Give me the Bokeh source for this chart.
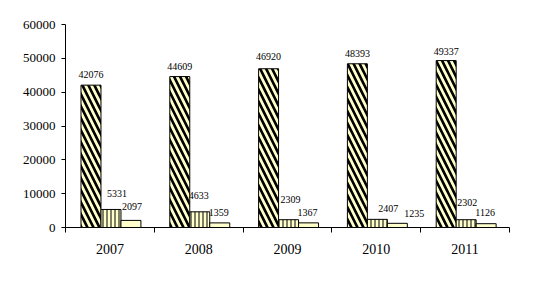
from bokeh.plotting import figure
from bokeh.models import ColumnDataSource, FixedTicker, LabelSet, Range1d
from bokeh.transform import dodge
from bokeh.embed import file_html
from bokeh.resources import INLINE

years = ["2007", "2008", "2009", "2010", "2011"]
series_a = [42076, 44609, 46920, 48393, 49337]
series_b = [5331, 4633, 2309, 2407, 2302]
series_c = [2097, 1359, 1367, 1235, 1126]
y_ticks = [0, 10000, 20000, 30000, 40000, 50000, 60000]

# label nudges (screen px), style only
dx_a = [0, 0, 0, 0, 0]
dy_a = [11, 10, 12, 10, 9]
dx_b = [6, -1, 2, 11, 1]
dy_b = [16, 16, 20, 11, 17]
dx_c = [1, -1, -1, 17, -1]
dy_c = [14, 10, 10, 10, 11]

xpos = [i + 0.5 for i in range(len(years))]

p = figure(width=540, height=293, output_backend="svg", toolbar_location=None,
           x_range=Range1d(0, len(years)), y_range=Range1d(0, 60000),
           min_border_left=65, min_border_right=31, min_border_top=24, min_border_bottom=66)
p.outline_line_color = None
p.xgrid.grid_line_color = None
p.ygrid.grid_line_color = None
p.background_fill_color = "white"
p.border_fill_color = "white"

w = 0.225
shift = 0.012
fill = "#FFFFCC"

def src(vals, dx, dy):
    return ColumnDataSource(dict(x=xpos, v=vals, t=[str(v) for v in vals], dx=dx, dy=dy))

sa = src(series_a, dx_a, dy_a)
sb = src(series_b, dx_b, dy_b)
sc = src(series_c, dx_c, dy_c)

p.vbar(x=dodge("x", -w + shift, range=p.x_range), top="v", width=w, source=sa,
       fill_color=fill, line_color="black", line_width=1,
       hatch_pattern="left_diagonal_line", hatch_color="black", hatch_scale=12, hatch_weight=2.6)
p.vbar(x=dodge("x", shift, range=p.x_range), top="v", width=w, source=sb,
       fill_color=fill, line_color="black", line_width=1,
       hatch_pattern="vertical_line", hatch_color="black", hatch_scale=4, hatch_weight=1)
p.vbar(x=dodge("x", w + shift, range=p.x_range), top="v", width=w, source=sc,
       fill_color=fill, line_color="black", line_width=1)

for s, off in ((sa, -w + shift), (sb, shift), (sc, w + shift)):
    lab = LabelSet(x=dodge("x", off, range=p.x_range), y="v", text="t", source=s,
                   x_offset="dx", y_offset="dy", text_align="center", text_baseline="middle",
                   text_font="Liberation Serif", text_font_size="10px", text_color="black")
    p.add_layout(lab)

p.xaxis.ticker = FixedTicker(ticks=xpos, minor_ticks=list(range(len(years) + 1)))
p.xaxis.major_label_overrides = {x: y for x, y in zip(xpos, years)}
p.xaxis.major_tick_out = 0
p.xaxis.major_tick_in = 0
p.xaxis.minor_tick_out = 5
p.xaxis.minor_tick_in = 0
p.xaxis.axis_line_color = "black"
p.xaxis.minor_tick_line_color = "black"
p.xaxis.major_label_text_font = "Liberation Serif"
p.xaxis.major_label_text_font_size = "14px"
p.xaxis.major_label_text_color = "black"
p.xaxis.major_label_standoff = 11

p.yaxis.ticker = FixedTicker(ticks=y_ticks, minor_ticks=[])
p.yaxis.major_tick_out = 4
p.yaxis.major_tick_in = 0
p.yaxis.axis_line_color = "black"
p.yaxis.major_tick_line_color = "black"
p.yaxis.major_label_text_font = "Liberation Serif"
p.yaxis.major_label_text_font_size = "13px"
p.yaxis.major_label_text_color = "black"
p.yaxis.major_label_standoff = 6

open("out.html", "w").write(file_html(p, INLINE))
